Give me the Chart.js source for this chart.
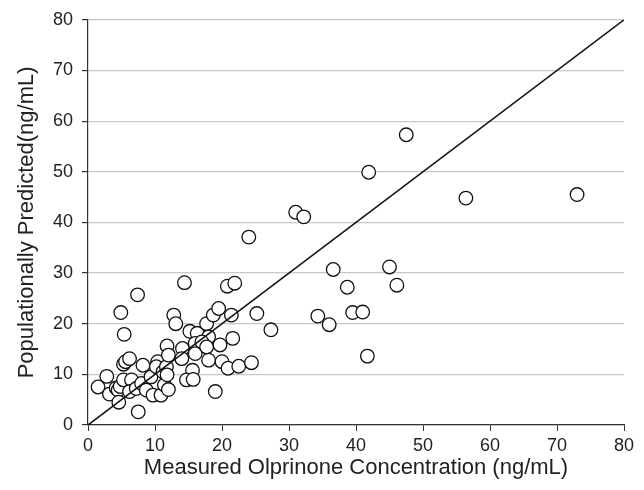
<!DOCTYPE html>
<html>
<head>
<meta charset="utf-8">
<script src="https://cdn.jsdelivr.net/npm/chart.js@4"></script>
<style>
	body { margin: 0; background: #fff; }
	#canvas01 { display: block; }
</style>
</head>
<body>
<canvas id="canvas01" width="644" height="490"></canvas>
<script>

// measured (x) vs populationally predicted (y), ng/mL
var measArray = [
	1.5, 2.8, 3.2, 4.2, 4.5, 4.8, 4.6, 5.3, 5.3, 5.6, 6.2, 6.5, 6.2, 7.2, 7.5, 8.0, 8.2, 8.7, 9.4, 9.7,
	10.9, 10.4, 10.2, 11.2, 11.4, 4.9, 5.4, 7.4, 11.8, 11.7, 12.0, 11.8, 12.0,
	12.8, 13.1, 14.4, 14.1, 14.0, 15.2, 16.3, 16.0, 16.0, 15.6, 14.7, 15.7, 17.7, 18.0, 17.0, 17.7, 18.0,
	18.7, 19.5, 19.7, 20.0, 20.9, 19.0, 20.8, 21.9, 21.4, 21.6, 22.5, 24.4, 25.2, 27.3, 24.0,
	31.0, 32.2, 36.6, 38.7, 34.3, 36.0, 39.5, 41.0, 41.7, 45.0, 46.1, 41.9, 47.5, 56.4, 73.0
];
var predArray = [
	7.5, 9.6, 6.1, 7.3, 6.9, 7.6, 4.5, 8.9, 12.0, 12.5, 13.1, 8.9, 6.6, 7.2, 2.6, 8.2, 11.8, 6.9, 9.5, 5.9,
	5.9, 12.5, 11.5, 10.5, 7.9, 22.2, 17.9, 25.7, 15.6, 11.5, 13.8, 9.9, 7.0,
	21.7, 20.0, 28.1, 15.1, 13.1, 18.5, 18.1, 16.1, 14.1, 10.8, 8.9, 9.0, 20.0, 17.4, 16.4, 15.4, 12.8,
	21.7, 23.0, 15.8, 12.5, 11.2, 6.6, 27.4, 28.0, 21.7, 17.1, 11.6, 12.3, 22.0, 18.8, 37.1,
	42.0, 41.1, 30.7, 27.2, 21.5, 19.8, 22.2, 22.3, 13.6, 31.2, 27.6, 49.9, 57.3, 44.8, 45.5
];
var lineArray = [0, 80];        // line of identity
var tickArray = [0, 10, 20, 30, 40, 50, 60, 70, 80];

var graf_disp = null;

function GrafDispersion() {
	if (graf_disp != null) { graf_disp.destroy(); }

	var puntos = measArray.map(function (v, i) { return { x: v, y: predArray[i] }; });
	var linea = lineArray.map(function (v) { return { x: v, y: v }; });

	var chartData = {
		datasets: [{
			type: 'line',
			label: 'identidad',
			data: linea,
			borderColor: '#111',
			borderWidth: 1.6,
			pointRadius: 0,
			fill: false,
			order: 0,
		},
		{
			type: 'scatter',
			label: 'pred',
			data: puntos,
			backgroundColor: '#fff',
			borderColor: '#111',
			borderWidth: 1.3,
			pointRadius: 6.8,
			order: 1,
		}]
	};

	var config01 = {
		type: 'scatter',
		data: chartData,
		options: {
			responsive: false,
			animation: false,
			layout: {
				padding: { left: 0, right: 20, top: 19, bottom: 0 }
			},
			plugins: {
				legend: { display: false },
				tooltip: { enabled: false },
			},
			scales: {
				x: {
					type: 'linear',
					min: 0,
					max: 80,
					afterBuildTicks: function (axis) {
						axis.ticks = tickArray.map(function (v) { return { value: v }; });
					},
					afterFit: function (axis) { axis.height = 65; },
					ticks: {
						color: '#222',
						padding: 4,
						maxRotation: 0,
						font: { family: 'Liberation Sans', size: 18 },
					},
					grid: {
						drawOnChartArea: false,
						tickLength: 6,
						tickColor: '#333',
					},
					border: { color: '#333', width: 1.2 },
					title: {
						display: true,
						text: 'Measured Olprinone Concentration (ng/mL)',
						color: '#222',
						padding: { top: 0, bottom: 9 },
						font: { family: 'Liberation Sans', size: 22 },
					},
				},
				y: {
					type: 'linear',
					min: 0,
					max: 80,
					afterBuildTicks: function (axis) {
						axis.ticks = tickArray.map(function (v) { return { value: v }; });
					},
					afterFit: function (axis) { axis.width = 88; },
					ticks: {
						color: '#222',
						padding: 9,
						font: { family: 'Liberation Sans', size: 18 },
					},
					grid: {
						color: '#c8c8c8',
						lineWidth: 1.2,
						tickLength: 6,
						tickColor: '#333',
					},
					border: { color: '#333', width: 1.2 },
					title: {
						display: true,
						text: 'Populationally Predicted(ng/mL)',
						color: '#222',
						padding: { top: 14, bottom: 0 },
						font: { family: 'Liberation Sans', size: 22 },
					},
				}
			},
		},
	};

	var ctx01 = document.getElementById('canvas01').getContext('2d');
	graf_disp = new Chart(ctx01, config01);
}

GrafDispersion();
</script>
</body>
</html>
